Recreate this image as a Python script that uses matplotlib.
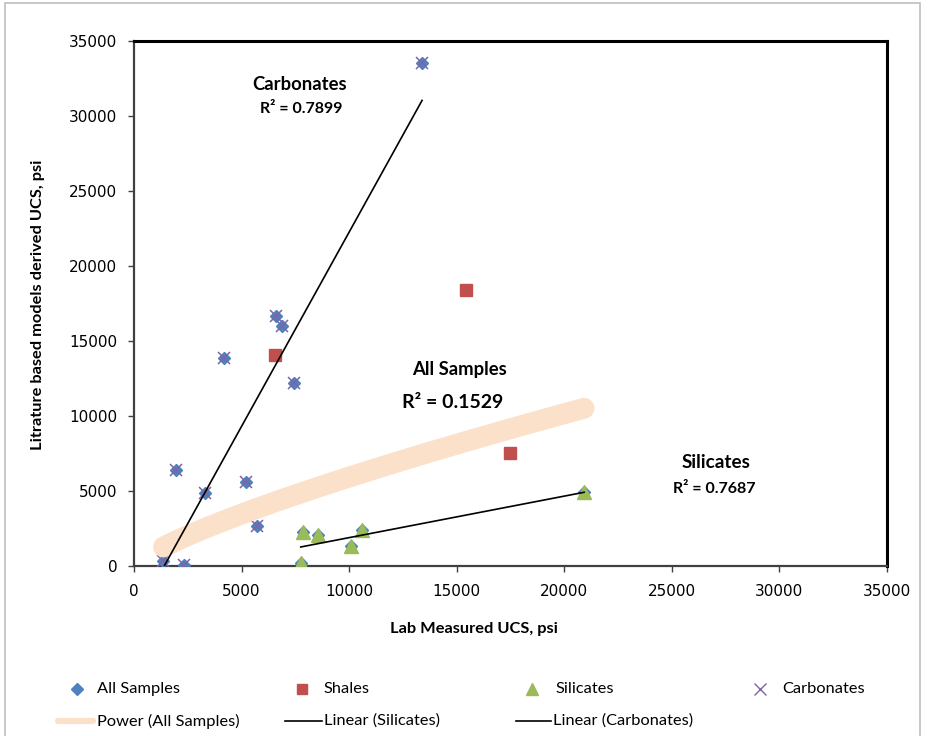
import matplotlib
matplotlib.use("Agg")
import matplotlib.pyplot as plt
import numpy as np
from matplotlib.lines import Line2D
from matplotlib.patches import Rectangle

# ---------------- data ----------------
carb_x = [1370, 2330, 1940, 3280, 4170, 5210, 5720, 6610, 6880, 7420, 13390]
carb_y = [330, 70, 6400, 4890, 13840, 5620, 2690, 16690, 16020, 12180, 33530]
shale_x = [6560, 15450, 17470]
shale_y = [14070, 18400, 7550]
sil_x = [7860, 8570, 10080, 10580, 7750, 20920]
sil_y = [2240, 2070, 1330, 2400, 180, 4910]
all_x = carb_x + shale_x + sil_x
all_y = carb_y + shale_y + sil_y

# trendline coefficients
power_a, power_b = 4.68, 0.7757          # y = a * x^b  (All Samples)
sil_slope, sil_icpt = 0.2768, -877.0     # Linear (Silicates)
carb_slope, carb_icpt = 2.59, -3640.0    # Linear (Carbonates)

ticks = [0, 5000, 10000, 15000, 20000, 25000, 30000, 35000]

BLUE, RED, GREEN, PURPLE = "#4F81BD", "#C0504D", "#9BBB59", "#8064A2"
PEACH = "#FBE0CA"
FONT = "Lato"

W, H = 935, 736
fig = plt.figure(figsize=(W / 100, H / 100), dpi=100)

def fx(px):
    return px / W

def fy(py):
    return 1 - py / H

ax = fig.add_axes([fx(134), fy(566), fx(887) - fx(134), fy(41) - fy(566)])
ax.set_xlim(0, 35000)
ax.set_ylim(0, 35000)
ax.set_xticks(ticks)
ax.set_yticks(ticks)
ax.set_xticklabels([str(t) for t in ticks])
ax.set_yticklabels([str(t) for t in ticks])
ax.tick_params(axis="both", direction="out", length=4, width=1, color="#404040",
               labelsize=11, labelcolor="black")
ax.tick_params(axis="x", pad=9)
ax.tick_params(axis="y", pad=8)
for lab in ax.get_xticklabels() + ax.get_yticklabels():
    lab.set_family("DejaVu Sans")

ax.spines["left"].set_color("#404040")
ax.spines["left"].set_linewidth(1.6)
ax.spines["bottom"].set_color("#404040")
ax.spines["bottom"].set_linewidth(1.6)
ax.spines["top"].set_color("black")
ax.spines["top"].set_linewidth(2.2)
ax.spines["right"].set_color("black")
ax.spines["right"].set_linewidth(2.2)

# series markers
ax.plot(all_x, all_y, ls="none", marker="D", ms=6.5, color=BLUE, zorder=3)
ax.plot(shale_x, shale_y, ls="none", marker="s", ms=8.5, color=RED, zorder=4)
ax.plot(sil_x, sil_y, ls="none", marker="^", ms=9.5, color=GREEN, zorder=4)
ax.plot(carb_x, carb_y, ls="none", marker="x", ms=9, mew=1.1, color=PURPLE, zorder=5)

# trendlines
px_ = np.linspace(min(all_x), max(all_x), 200)
ax.plot(px_, power_a * px_ ** power_b, color=PEACH, lw=15, solid_capstyle="round", zorder=6)
sx = np.array([min(sil_x), max(sil_x)])
ax.plot(sx, sil_slope * sx + sil_icpt, color="black", lw=1.2, zorder=7)
cx = np.array([min(carb_x), max(carb_x)])
ax.plot(cx, carb_slope * cx + carb_icpt, color="black", lw=1.2, zorder=7)

# annotations
fig.text(fx(300), fy(84), "Carbonates", family=FONT, weight="bold", fontsize=13.3,
         ha="center", va="center")
fig.text(fx(301), fy(109), "R² = 0.7899", family=FONT, weight="bold", fontsize=11.5,
         ha="center", va="center")
fig.text(fx(459), fy(369), "All Samples", family=FONT, weight="bold", fontsize=13.3,
         ha="center", va="center")
fig.text(fx(453), fy(402), "R² = 0.1529", family=FONT, weight="bold", fontsize=14,
         ha="center", va="center")
fig.text(fx(716), fy(463), "Silicates", family=FONT, weight="bold", fontsize=13.6,
         ha="center", va="center")
fig.text(fx(714), fy(489), "R² = 0.7687", family=FONT, weight="bold", fontsize=11.5,
         ha="center", va="center")

# axis labels
fig.text(fx(474), fy(629), "Lab Measured UCS, psi", family=FONT, weight="bold",
         fontsize=11.8, ha="center", va="center")
fig.text(fx(38), fy(305), "Litrature based models derived UCS, psi", family=FONT,
         weight="bold", fontsize=11.8, ha="center", va="center", rotation=90)

# legend (manual, figure coordinates)
row1 = fy(689)
row2 = fy(721)
leg_font = dict(family=FONT, fontsize=11.8, va="center", ha="left")
fig.add_artist(Line2D([fx(77)], [row1], marker="D", ms=6, color=BLUE, ls="none"))
fig.text(fx(97), row1, "All Samples", **leg_font)
fig.add_artist(Line2D([fx(302)], [row1], marker="s", ms=7.5, color=RED, ls="none"))
fig.text(fx(323), row1, "Shales", **leg_font)
fig.add_artist(Line2D([fx(532)], [row1], marker="^", ms=8, color=GREEN, ls="none"))
fig.text(fx(555), row1, "Silicates", **leg_font)
fig.add_artist(Line2D([fx(760)], [row1], marker="x", ms=8, mew=1.0, color=PURPLE, ls="none"))
fig.text(fx(782), row1, "Carbonates", **leg_font)

fig.add_artist(Line2D([fx(58), fx(93)], [row2, row2], color=PEACH, lw=4.5,
                      solid_capstyle="round"))
fig.text(fx(97), row2, "Power (All Samples)", **leg_font)
fig.add_artist(Line2D([fx(285), fx(322)], [row2, row2], color="black", lw=1.2))
fig.text(fx(324), row2, "Linear (Silicates)", **leg_font)
fig.add_artist(Line2D([fx(516), fx(551)], [row2, row2], color="black", lw=1.2))
fig.text(fx(553), row2, "Linear (Carbonates)", **leg_font)

# chart-area border
fig.add_artist(Rectangle((fx(5), -0.01), fx(920) - fx(5), fy(2.5) + 0.01,
                         transform=fig.transFigure, fill=False,
                         edgecolor="#BFBFBF", lw=1.2))

fig.savefig("out.png", dpi=100)
